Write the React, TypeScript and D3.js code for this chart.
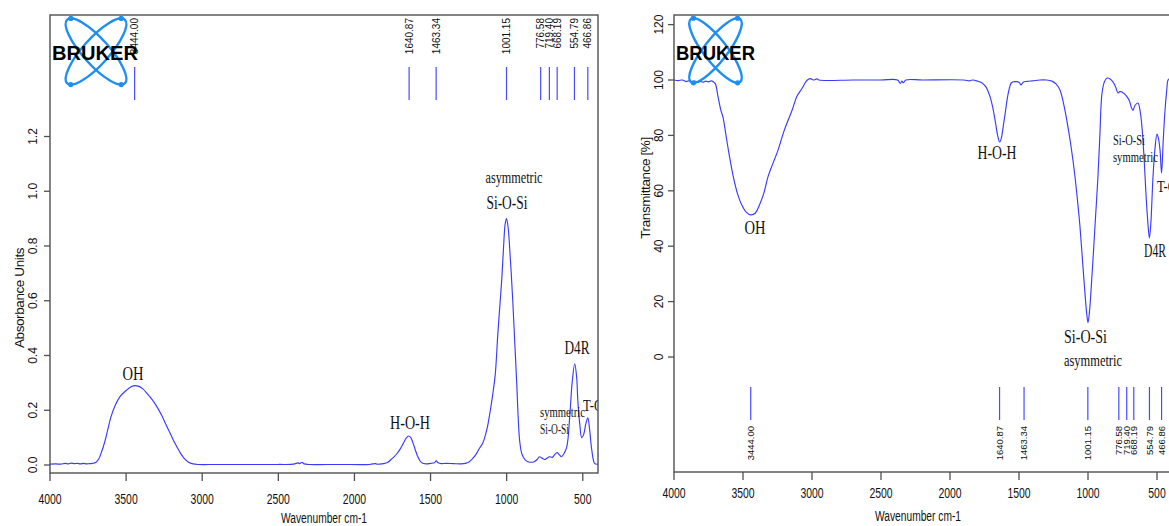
import React from "react";
import * as d3 from "d3";

// absorbance spectrum (left)
const absWn = [4000, 3960, 3930, 3900, 3880, 3860, 3840, 3820, 3800, 3780, 3760, 3740, 3720, 3700, 3680, 3660, 3640, 3620, 3600, 3570, 3540, 3500, 3470, 3444, 3420, 3390, 3360, 3330, 3300, 3270, 3240, 3210, 3180, 3150, 3120, 3090, 3060, 3030, 2900, 2700, 2500, 2400, 2370, 2360, 2345, 2330, 2300, 2100, 1900, 1860, 1850, 1820, 1800, 1780, 1760, 1740, 1720, 1700, 1680, 1660, 1645, 1630, 1615, 1600, 1585, 1570, 1555, 1530, 1500, 1475, 1463, 1450, 1430, 1400, 1350, 1300, 1270, 1250, 1230, 1200, 1180, 1157, 1130, 1110, 1091, 1075, 1058, 1045, 1032, 1020, 1010, 1001, 990, 980, 970, 960, 947, 934, 924, 914, 900, 880, 860, 840, 820, 800, 785, 770, 750, 735, 719, 700, 685, 668, 655, 640, 625, 605, 586, 570, 553, 540, 533, 520, 507, 495, 480, 467, 455, 441, 421, 400];
const absVal = [0.003, 0.004, 0.003, 0.006, 0.004, 0.007, 0.005, 0.006, 0.004, 0.006, 0.004, 0.005, 0.006, 0.009, 0.022, 0.05, 0.085, 0.13, 0.175, 0.22, 0.25, 0.272, 0.285, 0.29, 0.288, 0.278, 0.26, 0.24, 0.215, 0.185, 0.15, 0.115, 0.08, 0.05, 0.025, 0.01, 0.004, 0.002, 0.002, 0.002, 0.002, 0.003, 0.008, 0.005, 0.01, 0.004, 0.002, 0.002, 0.002, 0.005, 0.003, 0.004, 0.006, 0.01, 0.02, 0.03, 0.042, 0.058, 0.078, 0.098, 0.106, 0.1, 0.08, 0.055, 0.032, 0.016, 0.007, 0.004, 0.006, 0.008, 0.015, 0.008, 0.005, 0.006, 0.005, 0.004, 0.006, 0.01, 0.02, 0.04, 0.06, 0.08, 0.13, 0.19, 0.26, 0.33, 0.48, 0.58, 0.68, 0.8, 0.88, 0.9, 0.865, 0.79, 0.7, 0.6, 0.45, 0.3, 0.17, 0.085, 0.04, 0.02, 0.012, 0.01, 0.012, 0.02, 0.03, 0.026, 0.02, 0.025, 0.03, 0.028, 0.038, 0.045, 0.038, 0.03, 0.04, 0.066, 0.175, 0.3, 0.37, 0.32, 0.24, 0.15, 0.1, 0.11, 0.15, 0.172, 0.13, 0.055, 0.005, 0.003];

// transmittance spectrum (right)
const trWn = [4000, 3970, 3940, 3910, 3890, 3870, 3850, 3830, 3810, 3790, 3770, 3750, 3730, 3715, 3700, 3681, 3660, 3645, 3620, 3600, 3572, 3540, 3510, 3480, 3444, 3410, 3380, 3350, 3319, 3290, 3246, 3200, 3145, 3110, 3072, 3045, 3029, 3010, 2990, 2964, 2950, 2700, 2500, 2380, 2360, 2348, 2338, 2320, 2200, 1900, 1860, 1840, 1800, 1770, 1740, 1710, 1690, 1670, 1655, 1640, 1628, 1615, 1600, 1586, 1570, 1555, 1530, 1500, 1485, 1470, 1440, 1400, 1350, 1300, 1262, 1230, 1203, 1175, 1145, 1120, 1094, 1075, 1058, 1040, 1022, 1010, 1000, 990, 978, 964, 946, 928, 914, 899, 880, 862, 840, 819, 800, 783, 770, 754, 735, 718, 700, 685, 674, 660, 638, 620, 609, 595, 580, 567, 555, 545, 529, 515, 500, 490, 478, 467, 455, 442, 430, 420, 410, 400];
const trVal = [100, 99.8, 100, 99.4, 99.8, 99.2, 99.6, 99.1, 99.5, 99.2, 99.6, 99.3, 99.7, 99.4, 98.6, 94, 89, 86.6, 79, 73, 65.5, 59, 55, 52.5, 51.3, 52, 55, 59, 65, 69, 74.7, 82, 89, 94, 97, 99.3, 100.2, 100.5, 100, 100.4, 100, 100, 100, 100, 98.8, 99.6, 99, 100, 100, 100, 99.7, 100, 99.6, 99, 97.5, 94, 90, 84.5, 80, 77.6, 79, 83, 88, 93, 97, 99, 99.4, 99.2, 98.2, 99.2, 99.5, 99.7, 100, 100, 99.6, 98.5, 96.4, 91, 83, 75, 65, 56, 47, 35, 23, 16, 12.4, 16, 24, 35, 50, 65, 80, 95, 99.5, 100.7, 100.4, 99.3, 97.5, 95.3, 95.8, 95.7, 95, 94, 92.5, 90, 89, 90.8, 91.7, 88, 83, 73, 59, 49, 43, 48, 65, 75, 80.5, 79, 74.7, 66.4, 78, 89, 96, 100, 100.5, 100.5];

const peakWn = [3444.0, 1640.87, 1463.34, 1001.15, 776.58, 719.4, 668.19, 554.79, 466.86];
const peakText = ["3444.00", "1640.87", "1463.34", "1001.15", "776.58", "719.40", "668.19", "554.79", "466.86"];

const xTicks = [4000, 3500, 3000, 2500, 2000, 1500, 1000, 500];
const absTicks = [0, 0.2, 0.4, 0.6, 0.8, 1.0, 1.2];
const trTicks = [0, 20, 40, 60, 80, 100, 120];

type Note = { text: string; wn: number; v: number; kind: string; w: number; anchor: string };

const absNotes: Note[] = [
  { text: "OH", wn: 3455, v: 0.31, kind: "big", w: 21, anchor: "middle" },
  { text: "H-O-H", wn: 1635, v: 0.13, kind: "big", w: 40, anchor: "middle" },
  { text: "asymmetric", wn: 952, v: 1.03, kind: "mid", w: 57, anchor: "middle" },
  { text: "Si-O-Si", wn: 998, v: 0.935, kind: "big", w: 41, anchor: "middle" },
  { text: "D4R", wn: 538, v: 0.405, kind: "big", w: 25, anchor: "middle" },
  { text: "symmetric", wn: 781, v: 0.175, kind: "small", w: 45, anchor: "start" },
  { text: "Si-O-Si", wn: 781, v: 0.113, kind: "small", w: 29, anchor: "start" },
  { text: "T-O", wn: 498, v: 0.197, kind: "mid", w: 20, anchor: "start" },
];

const trNotes: Note[] = [
  { text: "OH", wn: 3413, v: 44.4, kind: "big", w: 21, anchor: "middle" },
  { text: "H-O-H", wn: 1659, v: 71.5, kind: "big", w: 39, anchor: "middle" },
  { text: "Si-O-Si", wn: 1174, v: 5.0, kind: "big", w: 43, anchor: "start" },
  { text: "asymmetric", wn: 1174, v: -3.2, kind: "mid", w: 58, anchor: "start" },
  { text: "Si-O-Si", wn: 819, v: 76.5, kind: "small", w: 32, anchor: "start" },
  { text: "symmetric", wn: 819, v: 70.4, kind: "small", w: 45, anchor: "start" },
  { text: "D4R", wn: 594, v: 36.1, kind: "big", w: 22, anchor: "start" },
  { text: "T-O", wn: 500, v: 59.6, kind: "mid", w: 20, anchor: "start" },
];

const noteSize: Record<string, number> = { big: 18, mid: 16, small: 15 };

const BLUE = "#3a3aff";
const AXIS = "#505050";
const SANS = "'Liberation Sans', Arial, sans-serif";
const SERIF = "'Liberation Serif', 'Times New Roman', serif";

function Logo({ cx, cy, rx, ry, ang, tx, ty, tw }: any) {
  // two tilted orbits + dots at top/bottom of each orbit
  const dots: [number, number][] = [];
  [ang, -ang].forEach((a) => {
    const th = (a * Math.PI) / 180;
    const t = Math.atan2(ry * Math.cos(th), rx * Math.sin(th));
    [t, t + Math.PI].forEach((tt) => {
      dots.push([
        cx + rx * Math.cos(tt) * Math.cos(th) - ry * Math.sin(tt) * Math.sin(th),
        cy + rx * Math.cos(tt) * Math.sin(th) + ry * Math.sin(tt) * Math.cos(th),
      ]);
    });
  });
  return (
    <g>
      <ellipse cx={cx} cy={cy} rx={rx} ry={ry} transform={`rotate(${ang} ${cx} ${cy})`} fill="none" stroke="#1e8ff0" strokeWidth={2.4} />
      <ellipse cx={cx} cy={cy} rx={rx} ry={ry} transform={`rotate(${-ang} ${cx} ${cy})`} fill="none" stroke="#1e8ff0" strokeWidth={2.4} />
      {dots.map((d, i) => (
        <circle key={i} cx={d[0]} cy={d[1]} r={2.6} fill="#1e8ff0" />
      ))}
      <text x={tx} y={ty} fontFamily={SANS} fontWeight="bold" fontSize={21} textLength={tw} lengthAdjust="spacingAndGlyphs" fill="#000">
        BRUKER
      </text>
    </g>
  );
}

function Panel(p: any) {
  const { id, x, y, left, right, top, bottom, wn, val, yTicks, yFmt, yTitle, yTitleY, yLabelX, notes,
    markTop, markBottom, labelTop, labelSize, tickLabelY, titleY, titleX } = p;

  const path = d3
    .line<number>()
    .x((_, i) => x(wn[i]))
    .y((d) => y(d))
    .curve(d3.curveCatmullRom.alpha(0.5))(val);

  return (
    <g>
      <defs>
        <clipPath id={id}>
          <rect x={left} y={top} width={right - left} height={bottom - top} />
        </clipPath>
      </defs>

      {/* peak markers */}
      {peakWn.map((w: number, i: number) => (
        <g key={i}>
          <line x1={x(w)} x2={x(w)} y1={markTop} y2={markBottom} stroke="#4a4aff" strokeWidth={1.2} />
          <text
            transform={`translate(${x(w) + labelSize * 0.36},${labelTop}) rotate(-90)`}
            textAnchor="end"
            fontFamily={SANS}
            fontSize={labelSize}
            fill="#111"
          >
            {peakText[i]}
          </text>
        </g>
      ))}

      <g clipPath={`url(#${id})`}>
        <path d={path || ""} fill="none" stroke={BLUE} strokeWidth={1.15} />
        {notes.map((n: Note, i: number) => (
          <text
            key={i}
            x={x(n.wn)}
            y={y(n.v)}
            textAnchor={n.anchor}
            fontFamily={SERIF}
            fontSize={noteSize[n.kind]}
            textLength={n.w}
            lengthAdjust="spacingAndGlyphs"
            fill="#111"
          >
            {n.text}
          </text>
        ))}
      </g>

      {/* frame */}
      <rect x={left} y={top} width={right - left} height={bottom - top} fill="none" stroke={AXIS} strokeWidth={1.4} />

      {/* x axis */}
      {xTicks.map((t) => (
        <g key={t}>
          <line x1={x(t)} x2={x(t)} y1={bottom} y2={bottom + 8} stroke={AXIS} strokeWidth={1.3} />
          <text x={x(t)} y={tickLabelY} dy="0.35em" textAnchor="middle" fontFamily={SANS} fontSize={15} textLength={String(t).length * 5.8} lengthAdjust="spacingAndGlyphs" fill="#111">
            {t}
          </text>
        </g>
      ))}
      <text x={titleX} y={titleY} dy="0.35em" textAnchor="middle" fontFamily={SANS} fontSize={14} textLength={86} lengthAdjust="spacingAndGlyphs" fill="#111">
        Wavenumber cm-1
      </text>

      {/* y axis */}
      {yTicks.map((t: number) => (
        <g key={t}>
          <line x1={left - 6} x2={left} y1={y(t)} y2={y(t)} stroke={AXIS} strokeWidth={1.3} />
          <text
            transform={`translate(${yLabelX},${y(t)}) rotate(-90)`}
            dy="0.35em"
            textAnchor="middle"
            fontFamily={SANS}
            fontSize={12}
            fill="#111"
          >
            {yFmt(t)}
          </text>
        </g>
      ))}
      <text
        transform={`translate(${yLabelX - 14},${yTitleY}) rotate(-90)`}
        dy="0.35em"
        textAnchor="middle"
        fontFamily={SANS}
        fontSize={13.5}
        letterSpacing={-0.4}
        fill="#111"
      >
        {yTitle}
      </text>
    </g>
  );
}

export default function App() {
  const xL = d3.scaleLinear().domain([4000, 400]).range([50, 598]);
  const yL = d3.scaleLinear().domain([0, 1.2]).range([465, 136.5]);
  const xR = d3.scaleLinear().domain([4000, 400]).range([674, 1170.8]);
  const yR = d3.scaleLinear().domain([0, 120]).range([357, 24.6]);

  return (
    <svg width={1169} height={526} style={{ position: "absolute", left: 0, top: 0, background: "#fff" }}>
      <Panel
        id="clipL"
        x={xL}
        y={yL}
        left={50}
        right={598}
        top={15}
        bottom={473}
        wn={absWn}
        val={absVal}
        yTicks={absTicks}
        yFmt={d3.format(".1f")}
        yTitle="Absorbance Units"
        yTitleY={298}
        yLabelX={33}
        notes={absNotes}
        markTop={67}
        markBottom={100}
        labelTop={18}
        labelSize={10}
        tickLabelY={499}
        titleY={518}
        titleX={324}
      />
      <Logo cx={96} cy={51.5} rx={43} ry={13} ang={48} tx={52} ty={60} tw={86} />

      <Panel
        id="clipR"
        x={xR}
        y={yR}
        left={674}
        right={1175}
        top={15}
        bottom={472}
        wn={trWn}
        val={trVal}
        yTicks={trTicks}
        yFmt={d3.format("d")}
        yTitle="Transmittance [%]"
        yTitleY={188}
        yLabelX={659}
        notes={trNotes}
        markTop={387}
        markBottom={420}
        labelTop={426}
        labelSize={9.5}
        tickLabelY={493}
        titleY={516}
        titleX={918}
      />
      <Logo cx={715.5} cy={50.5} rx={40} ry={11.5} ang={52} tx={676} ty={59.5} tw={79} />
    </svg>
  );
}
